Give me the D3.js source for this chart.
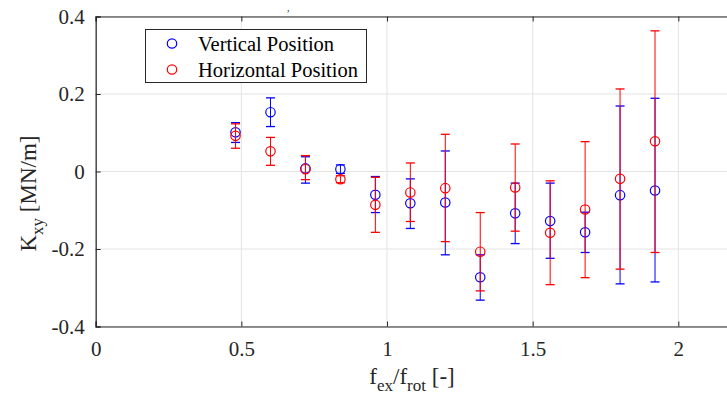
<!DOCTYPE html>
<html>
<head>
<meta charset="utf-8">
<script src="https://cdn.jsdelivr.net/npm/d3@7"></script>
<style>
    body { margin: 0; background: #fff; }
    svg { display: block; font-family: 'Liberation Serif', 'Times New Roman', serif; }
</style>
</head>
<body>
<script>
// frequency ratio f_ex / f_rot
const freqRatio = [0.48, 0.6, 0.72, 0.84, 0.96, 1.08, 1.2, 1.32, 1.44, 1.56, 1.68, 1.8, 1.92];

// vertical position: K_xy and error bar ends
const verticalK = [0.101, 0.153, 0.008, 0.006, -0.060, -0.082, -0.080, -0.273, -0.108, -0.128, -0.157, -0.061, -0.049];
const verticalLow = [0.075, 0.116, -0.030, -0.005, -0.106, -0.147, -0.215, -0.332, -0.186, -0.224, -0.209, -0.290, -0.285];
const verticalHigh = [0.126, 0.190, 0.038, 0.017, -0.013, -0.019, 0.053, -0.215, -0.030, -0.030, -0.105, 0.169, 0.189];

// horizontal position: K_xy and error bar ends
const horizontalK = [0.092, 0.052, 0.006, -0.020, -0.086, -0.054, -0.043, -0.207, -0.041, -0.158, -0.098, -0.019, 0.078];
const horizontalLow = [0.060, 0.016, -0.021, -0.029, -0.157, -0.129, -0.181, -0.308, -0.154, -0.292, -0.274, -0.252, -0.209];
const horizontalHigh = [0.123, 0.088, 0.041, -0.011, -0.015, 0.022, 0.096, -0.106, 0.071, -0.024, 0.077, 0.213, 0.363];

const xTicks = [0, 0.5, 1, 1.5, 2];
const xTickLabels = ['0', '0.5', '1', '1.5', '2'];
const yTicks = [-0.4, -0.2, 0, 0.2, 0.4];
const yTickLabels = ['-0.4', '-0.2', '0', '0.2', '0.4'];
const seriesNames = ['Vertical Position', 'Horizontal Position'];

const SCREEN = {
    width: 727,
    height: 403,
    left: 95.7,
    right: 736.6,
    top: 16.5,
    bottom: 326.5
};

const svg = d3.select('body').append('svg')
    .attr('width', SCREEN.width)
    .attr('height', SCREEN.height);

const xScale = d3.scaleLinear().domain([0, 2.2]).range([SCREEN.left, SCREEN.right]);
const yScale = d3.scaleLinear().domain([-0.4, 0.4]).range([SCREEN.bottom, SCREEN.top]);

// grid
const grid = svg.append('g').attr('stroke', '#e3e3e3').attr('stroke-width', 1);
grid.selectAll('.vgrid').data(xTicks).join('line')
    .attr('x1', d => xScale(d)).attr('x2', d => xScale(d))
    .attr('y1', SCREEN.top).attr('y2', SCREEN.bottom);
grid.selectAll('.hgrid').data(yTicks).join('line')
    .attr('x1', SCREEN.left).attr('x2', SCREEN.right)
    .attr('y1', d => yScale(d)).attr('y2', d => yScale(d));

// axes (MATLAB box with inward ticks)
const xAxis = d3.axisBottom(xScale).tickValues(xTicks).tickSize(-5).tickFormat((d, i) => xTickLabels[i]).tickPadding(15);
const xAxisTop = d3.axisTop(xScale).tickValues(xTicks).tickSize(-5).tickFormat('');
const yAxis = d3.axisLeft(yScale).tickValues(yTicks).tickSize(-5).tickFormat((d, i) => yTickLabels[i]).tickPadding(11);

const styleAxis = g => {
    g.select('.domain').attr('stroke', '#262626').attr('stroke-width', 1.2);
    g.selectAll('.tick line').attr('stroke', '#262626');
    g.selectAll('.tick text')
        .attr('fill', '#262626')
        .style('font-family', "'Liberation Serif', serif")
        .style('font-size', '21px');
};

svg.append('g').attr('transform', `translate(0,${SCREEN.bottom})`).call(xAxis).call(styleAxis);
svg.append('g').attr('transform', `translate(0,${SCREEN.top})`).call(xAxisTop).call(styleAxis);
svg.append('g').attr('transform', `translate(${SCREEN.left},0)`).call(yAxis).call(styleAxis);

// axis labels
const xLabel = svg.append('text')
    .attr('x', 412).attr('y', 384)
    .attr('text-anchor', 'middle')
    .attr('fill', '#262626')
    .style('font-size', '23px');
xLabel.append('tspan').text('f');
xLabel.append('tspan').attr('dy', 7).style('font-size', '17px').text('ex');
xLabel.append('tspan').attr('dy', -7).text('/f');
xLabel.append('tspan').attr('dy', 7).style('font-size', '17px').text('rot');
xLabel.append('tspan').attr('dy', -7).text(' [-]');

const yLabel = svg.append('text')
    .attr('transform', `translate(36,${(SCREEN.top + SCREEN.bottom) / 2 + 22}) rotate(-90)`)
    .attr('text-anchor', 'middle')
    .attr('fill', '#262626')
    .style('font-size', '23px');
yLabel.append('tspan').text('K');
yLabel.append('tspan').attr('dy', 7).style('font-size', '17px').text('xy');
yLabel.append('tspan').attr('dy', -7).text(' [MN/m]');

// remnant of the title above the frame
svg.append('text').attr('x', 287).attr('y', 11).attr('fill', '#262626')
    .style('font-size', '10px').text(',');

// error bar series
const series = [
    { name: seriesNames[0], color: '#0000ff', k: verticalK, low: verticalLow, high: verticalHigh },
    { name: seriesNames[1], color: '#ff0000', k: horizontalK, low: horizontalLow, high: horizontalHigh }
];
const capHalf = 4.5;

series.forEach(s => {
    const rows = freqRatio.map((f, i) => ({ f: f, k: s.k[i], low: s.low[i], high: s.high[i] }));
    const g = svg.append('g').attr('stroke', s.color).attr('fill', 'none');
    g.selectAll('.stem').data(rows).join('line')
        .attr('x1', d => xScale(d.f)).attr('x2', d => xScale(d.f))
        .attr('y1', d => yScale(d.low)).attr('y2', d => yScale(d.high))
        .attr('stroke-width', 1);
    g.selectAll('.capTop').data(rows).join('line')
        .attr('x1', d => xScale(d.f) - capHalf).attr('x2', d => xScale(d.f) + capHalf)
        .attr('y1', d => yScale(d.high)).attr('y2', d => yScale(d.high))
        .attr('stroke-width', 1.3);
    g.selectAll('.capLow').data(rows).join('line')
        .attr('x1', d => xScale(d.f) - capHalf).attr('x2', d => xScale(d.f) + capHalf)
        .attr('y1', d => yScale(d.low)).attr('y2', d => yScale(d.low))
        .attr('stroke-width', 1.3);
    g.selectAll('circle').data(rows).join('circle')
        .attr('cx', d => xScale(d.f)).attr('cy', d => yScale(d.k))
        .attr('r', 4.7)
        .attr('stroke-width', 1.2);
});

// legend
const legend = svg.append('g').attr('transform', 'translate(145.5,29.5)');
legend.append('rect')
    .attr('width', 221).attr('height', 53)
    .attr('fill', '#fff').attr('stroke', '#262626').attr('stroke-width', 1);
series.forEach((s, i) => {
    legend.append('circle')
        .attr('cx', 26.5).attr('cy', 14 + i * 26)
        .attr('r', 4.7)
        .attr('fill', 'none').attr('stroke', s.color).attr('stroke-width', 1.2);
    legend.append('text')
        .attr('x', 52.5).attr('y', 21 + i * 26)
        .attr('fill', '#000')
        .style('font-size', '20.5px')
        .text(s.name);
});
</script>
</body>
</html>
